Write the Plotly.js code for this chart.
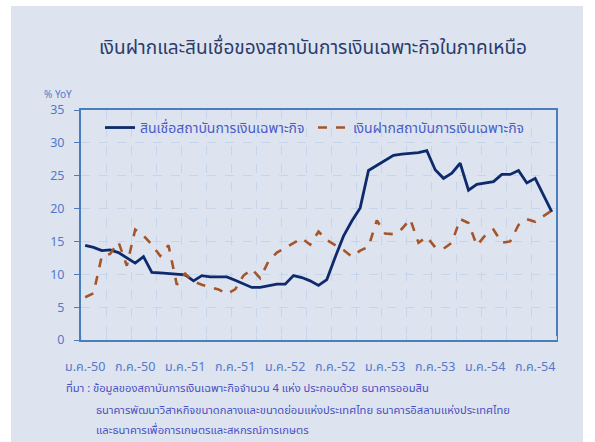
<!DOCTYPE html>
<html>
<head>
<meta charset="utf-8">
<script src="https://cdn.plot.ly/plotly-3.0.1.min.js"></script>
<style>
  html, body { margin: 0; padding: 0; background: #ffffff; }
  #chart { width: 595px; height: 442px; }
</style>
</head>
<body>
<div id="chart"></div>
<script>
// Tick labels (every 6 months, Jan 2007 = ม.ค.-50 ... Jul 2011 = ก.ค.-54)
var tickLabels = ["ม.ค.-50", "ก.ค.-50", "ม.ค.-51", "ก.ค.-51", "ม.ค.-52", "ก.ค.-52", "ม.ค.-53", "ก.ค.-53", "ม.ค.-54", "ก.ค.-54"];
var tickMonths = [0, 6, 12, 18, 24, 30, 36, 42, 48, 54];

// Loans of specialized financial institutions (% YoY), monthly Jan 2007 - Sep 2011
var loans = [14.4, 14.1, 13.6, 13.7, 13.3, 12.5, 11.7, 12.7, 10.3, 10.2,
             10.1, 9.95, 9.9, 9.0, 9.8, 9.6, 9.6, 9.6, 9.1, 8.5,
             8.0, 8.0, 8.2, 8.5, 8.5, 9.8, 9.5, 9.0, 8.3, 9.2,
             12.6, 15.8, 18.1, 20.1, 25.8, 26.6, 27.3, 28.1, 28.3, 28.4,
             28.5, 28.8, 25.9, 24.6, 25.4, 26.9, 22.8, 23.7, 23.9, 24.1,
             25.2, 25.2, 25.8, 23.9, 24.6, 22.1, 19.5];

// Deposits of specialized financial institutions (% YoY)
var deposits = [6.5, 7.1, 12.8, 13.1, 14.9, 11.3, 16.8, 15.9, 14.5, 12.8,
                14.4, 8.4, 10.1, 8.9, 8.4, 8.1, 7.7, 7.0, 7.7, 9.8,
                10.8, 9.4, 12.0, 13.3, 14.0, 14.8, 15.5, 14.5, 16.5, 15.2,
                14.5, 13.7, 12.7, 13.6, 14.2, 18.2, 16.2, 16.1, 16.9, 18.4,
                14.8, 15.7, 14.1, 13.9, 14.8, 18.4, 17.8, 14.4, 15.9, 16.8,
                14.8, 15.0, 17.5, 18.4, 18.0, 18.8, 19.7];

var seriesNames = ["สินเชื่อสถาบันการเงินเฉพาะกิจ", "เงินฝากสถาบันการเงินเฉพาะกิจ"];

var monthIndex = loans.map(function (_, i) { return i; });

var thaiFont = "Tahoma, 'Noto Sans Thai', Loma, 'DejaVu Sans', sans-serif";
var axisBlue = "#4a7ebb";
var labelBlue = "#5479c9";

var traces = [
  {
    x: monthIndex, y: loans, name: seriesNames[0], type: "scatter", mode: "lines",
    line: { color: "#0e2a6c", width: 2.8 }
  },
  {
    x: monthIndex, y: deposits, name: seriesNames[1], type: "scatter", mode: "lines",
    line: { color: "#a4552a", width: 2.6, dash: "dash" }
  }
];

var layout = {
  width: 595, height: 442,
  margin: { l: 81, r: 39, t: 110, b: 102 },
  paper_bgcolor: "#ffffff",
  plot_bgcolor: "#ffffff",
  showlegend: true,
  title: {
    text: "เงินฝากและสินเชื่อของสถาบันการเงินเฉพาะกิจในภาคเหนือ",
    font: { family: thaiFont, size: 19, color: "#2c3b6b" },
    x: (313 - 81) / 475, xanchor: "center", xref: "paper",
    y: 1 - 47 / 442, yanchor: "middle", yref: "container"
  },
  xaxis: {
    range: [-0.5, 56.5],
    tickmode: "array", tickvals: tickMonths, ticktext: tickLabels,
    ticks: "", showgrid: false, zeroline: false,
    showline: true, linecolor: axisBlue, linewidth: 2, mirror: true,
    tickfont: { family: thaiFont, size: 12.5, color: labelBlue },
    ticklabelstandoff: 14,
    minor: {
      tick0: -0.5, dtick: 3, showgrid: true, gridcolor: "#c7d5ea",
      griddash: "dash", gridwidth: 1, ticks: "inside", ticklen: 4, tickcolor: "#c7d5ea"
    }
  },
  yaxis: {
    range: [0, 35], dtick: 5, tick0: 0,
    ticks: "outside", ticklen: 5, tickcolor: axisBlue, tickwidth: 1,
    showgrid: true, gridcolor: "#c7d5ea", griddash: "dash", gridwidth: 1,
    zeroline: false,
    showline: true, linecolor: axisBlue, linewidth: 2, mirror: true,
    ticklabelstandoff: 7,
    tickfont: { family: thaiFont, size: 12.5, color: labelBlue }
  },
  legend: {
    orientation: "h", x: 0.04, xanchor: "left", y: 0.922, yanchor: "middle",
    bgcolor: "rgba(255,255,255,0)", borderwidth: 0,
    font: { family: thaiFont, size: 14, color: "#4a5cc8" },
    entrywidth: 168, entrywidthmode: "pixels"
  },
  shapes: [
    {
      type: "rect", xref: "paper", yref: "paper", layer: "below",
      x0: (11 - 81) / 475, x1: (583 - 81) / 475,
      y0: (340 - 442) / 230, y1: (340 - 6) / 230,
      fillcolor: "#dde4ef", line: { width: 0 }
    }
  ],
  annotations: [
    {
      text: "% YoY", xref: "paper", yref: "paper",
      x: (42 - 81) / 475, y: (340 - 95) / 230, xanchor: "left", yanchor: "middle",
      showarrow: false, font: { family: thaiFont, size: 10, color: labelBlue }
    },
    {
      text: "ที่มา : ข้อมูลของสถาบันการเงินเฉพาะกิจจำนวน 4 แห่ง ประกอบด้วย ธนาคารออมสิน",
      xref: "paper", yref: "paper",
      x: (64 - 81) / 475, y: (340 - 388) / 230, xanchor: "left", yanchor: "middle",
      showarrow: false, font: { family: thaiFont, size: 11.2, color: "#4a4fc4" }
    },
    {
      text: "ธนาคารพัฒนาวิสาหกิจขนาดกลางและขนาดย่อมแห่งประเทศไทย ธนาคารอิสลามแห่งประเทศไทย",
      xref: "paper", yref: "paper",
      x: (94 - 81) / 475, y: (340 - 410) / 230, xanchor: "left", yanchor: "middle",
      showarrow: false, font: { family: thaiFont, size: 11.2, color: "#4a4fc4" }
    },
    {
      text: "และธนาคารเพื่อการเกษตรและสหกรณ์การเกษตร",
      xref: "paper", yref: "paper",
      x: (94 - 81) / 475, y: (340 - 430) / 230, xanchor: "left", yanchor: "middle",
      showarrow: false, font: { family: thaiFont, size: 11.2, color: "#4a4fc4" }
    }
  ]
};

Plotly.newPlot("chart", traces, layout, { displayModeBar: false, staticPlot: true });
</script>
</body>
</html>
